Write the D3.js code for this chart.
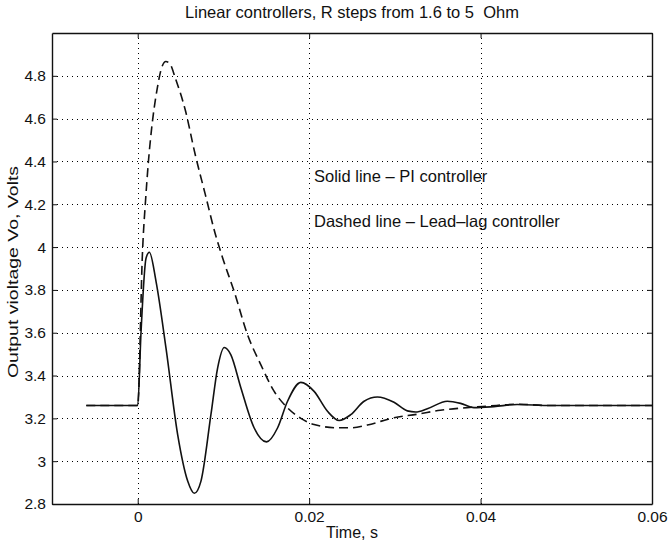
<!DOCTYPE html>
<html>
<head>
<meta charset="utf-8">
<script src="https://cdn.jsdelivr.net/npm/d3@7"></script>
<style>
  body { margin: 0; background: #fff; }
  text { font-family: "Liberation Sans", Arial, sans-serif; fill: #111; }
</style>
</head>
<body>
<div class="container"></div>
<script>
const width = 670;
const height = 542;

// PI controller (solid line)
const piTime = [-0.006, 0, 0.00039, 0.00097, 0.00136, 0.00214, 0.0033, 0.00466, 0.00583, 0.0066,
  0.00738, 0.00854, 0.00932, 0.0101, 0.01087, 0.01204, 0.01359, 0.01503, 0.01631, 0.01748,
  0.01903, 0.02058, 0.02214, 0.0235, 0.02485, 0.02641, 0.02796, 0.0299, 0.03146, 0.03243,
  0.03379, 0.03612, 0.03767, 0.03922, 0.04155, 0.04427, 0.04816, 0.06];
const piVolts = [3.26, 3.26, 3.606, 3.948, 3.976, 3.839, 3.528, 3.124, 2.907, 2.85,
  2.907, 3.217, 3.435, 3.531, 3.497, 3.342, 3.155, 3.09, 3.155, 3.28,
  3.368, 3.326, 3.233, 3.19, 3.217, 3.28, 3.30, 3.275, 3.235, 3.23,
  3.245, 3.28, 3.27, 3.25, 3.255, 3.265, 3.26, 3.26];

// Lead-lag controller (dashed line)
const llTime = [-0.006, 0, 0.00055, 0.00066, 0.00086, 0.00125, 0.00164, 0.00223, 0.00281, 0.00328,
  0.00379, 0.00438, 0.00555, 0.00672, 0.00789, 0.00906, 0.0099, 0.01126, 0.01282, 0.01437,
  0.01592, 0.01748, 0.01903, 0.02058, 0.0233, 0.0249, 0.0268, 0.0299, 0.0326, 0.0353,
  0.0384, 0.0408, 0.0443, 0.048, 0.06];
const llVolts = [3.26, 3.26, 3.969, 4.062, 4.186, 4.4, 4.56, 4.73, 4.84, 4.867,
  4.854, 4.79, 4.64, 4.43, 4.245, 4.06, 3.95, 3.792, 3.59, 3.45,
  3.326, 3.249, 3.2, 3.171, 3.156, 3.156, 3.169, 3.203, 3.219, 3.238,
  3.25, 3.257, 3.266, 3.26, 3.26];

const xTicks = [0, 0.02, 0.04, 0.06];
const xTickLabels = ['0', '0.02', '0.04', '0.06'];
const yTicks = [2.8, 3, 3.2, 3.4, 3.6, 3.8, 4, 4.2, 4.4, 4.6, 4.8];
const yTickLabels = ['2.8', '3', '3.2', '3.4', '3.6', '3.8', '4', '4.2', '4.4', '4.6', '4.8'];

const title = 'Linear controllers, R steps from 1.6 to 5  Ohm';
const xLabel = 'Time, s';
const yLabel = 'Output violtage Vo, Volts';
const notes = ['Solid line \u2013 PI controller', 'Dashed line \u2013 Lead\u2013lag controller'];

const margin = { left: 52, right: 18, top: 33, bottom: 38 };

const x = d3.scaleLinear()
  .domain([-0.01, 0.06])
  .range([margin.left, width - margin.right]);

const y = d3.scaleLinear()
  .domain([2.8, 5.0])
  .range([height - margin.bottom, margin.top]);

const svg = d3.select('.container')
  .append('svg')
  .attr('width', width)
  .attr('height', height);

// dotted grid
svg.append('g')
  .selectAll('line')
  .data(xTicks.filter(d => d < 0.06))
  .enter()
  .append('line')
  .attr('x1', d => Math.round(x(d)) + 0.5).attr('x2', d => Math.round(x(d)) + 0.5)
  .attr('y1', y(2.8)).attr('y2', y(5.0))
  .attr('stroke', '#000')
  .attr('stroke-width', 1)
  .attr('shape-rendering', 'crispEdges')
  .attr('stroke-dasharray', '1,4');

svg.append('g')
  .selectAll('line')
  .data(yTicks.filter(d => d > 2.8))
  .enter()
  .append('line')
  .attr('x1', x(-0.01)).attr('x2', x(0.06))
  .attr('y1', d => Math.round(y(d)) + 0.5).attr('y2', d => Math.round(y(d)) + 0.5)
  .attr('stroke', '#000')
  .attr('stroke-width', 1)
  .attr('shape-rendering', 'crispEdges')
  .attr('stroke-dasharray', '1,4');

// axes, ticks inward on all sides
const axBottom = svg.append('g')
  .attr('transform', `translate(0,${y(2.8)})`)
  .call(d3.axisBottom(x).tickValues(xTicks).tickFormat((d, i) => xTickLabels[i]).tickSizeInner(-5).tickSizeOuter(0).tickPadding(7));
const axTop = svg.append('g')
  .attr('transform', `translate(0,${y(5.0)})`)
  .call(d3.axisTop(x).tickValues(xTicks).tickFormat('').tickSizeInner(-5).tickSizeOuter(0));
const axLeft = svg.append('g')
  .attr('transform', `translate(${x(-0.01)},0)`)
  .call(d3.axisLeft(y).tickValues(yTicks).tickFormat((d, i) => yTickLabels[i]).tickSizeInner(-5).tickSizeOuter(0).tickPadding(6));
const axRight = svg.append('g')
  .attr('transform', `translate(${x(0.06)},0)`)
  .call(d3.axisRight(y).tickValues(yTicks).tickFormat('').tickSizeInner(-5).tickSizeOuter(0));

[axBottom, axTop, axLeft, axRight].forEach(g => {
  g.select('.domain').attr('stroke', '#111').attr('stroke-width', 1.4);
  g.selectAll('.tick line').attr('stroke', '#111');
  g.selectAll('text').attr('font-size', 15.5).attr('fill', '#111')
    .style('font-family', '"Liberation Sans", Arial, sans-serif');
});

// curves
const line = d3.line()
  .x(d => x(d[0]))
  .y(d => y(d[1]))
  .curve(d3.curveMonotoneX);

svg.append('path')
  .datum(llTime.map((t, i) => [t, llVolts[i]]))
  .attr('d', line)
  .attr('fill', 'none')
  .attr('stroke', '#111')
  .attr('stroke-width', 1.6)
  .attr('stroke-dasharray', '9,5');

svg.append('path')
  .datum(piTime.map((t, i) => [t, piVolts[i]]))
  .attr('d', line)
  .attr('fill', 'none')
  .attr('stroke', '#111')
  .attr('stroke-width', 1.6);

// texts
svg.append('text')
  .attr('x', 352).attr('y', 18)
  .attr('text-anchor', 'middle')
  .attr('font-size', 16.5)
  .style('white-space', 'pre')
  .text(title);

svg.append('text')
  .attr('x', 352).attr('y', 538)
  .attr('text-anchor', 'middle')
  .attr('font-size', 16)
  .text(xLabel);

svg.append('text')
  .attr('transform', `translate(18,272) rotate(-90) scale(1.3,1)`)
  .attr('text-anchor', 'middle')
  .attr('font-size', 15)
  .text(yLabel);

svg.selectAll('.note')
  .data(notes)
  .enter()
  .append('text')
  .attr('class', 'note')
  .attr('x', 314)
  .attr('y', (d, i) => 182 + i * 45)
  .attr('font-size', 16.5)
  .text(d => d);
</script>
</body>
</html>
